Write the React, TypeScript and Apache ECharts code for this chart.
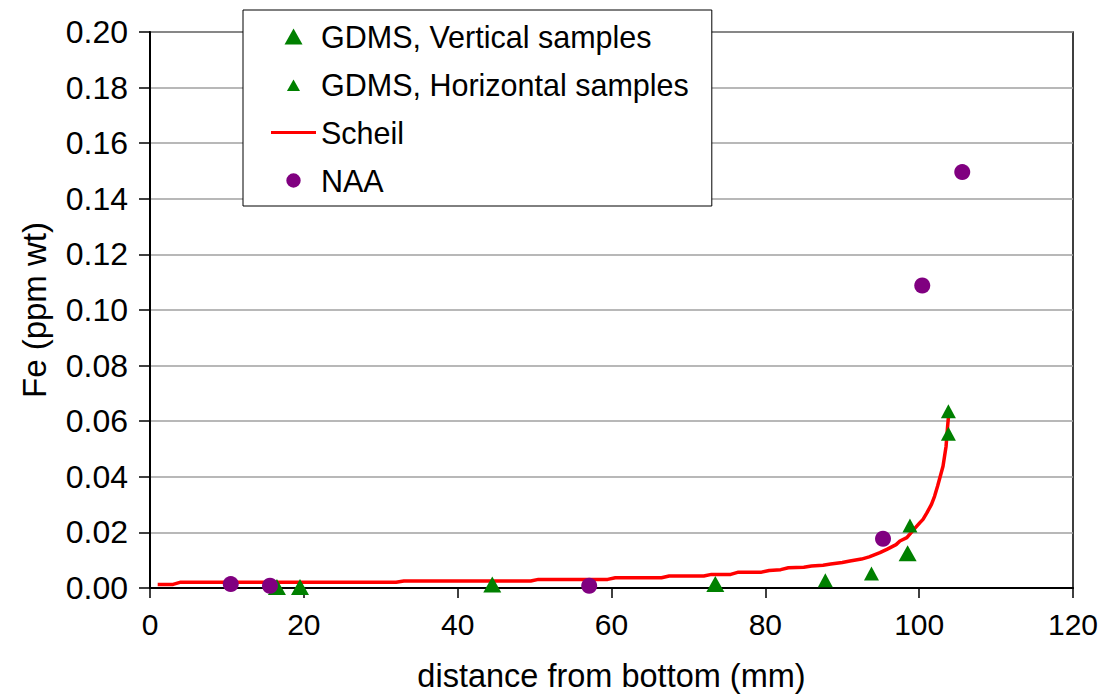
import React, { useEffect, useRef } from "react";
import * as echarts from "echarts";

// Distance from bottom (mm) and Fe content (ppm wt)
const verticalX = [16.5, 19.5, 44.5, 73.5, 98.5];
const verticalY = [0.0004, 0.0004, 0.0013, 0.0014, 0.0125];

const horizontalX = [87.8, 93.8, 98.8, 103.8, 103.8];
const horizontalY = [0.0028, 0.0052, 0.0225, 0.0555, 0.0636];

const scheilX = [1, 3, 4, 32, 33, 49.5, 50.5, 59.5, 60.5, 66.5, 67.5, 72, 73, 75.5, 76.5, 79.5, 80.5, 82, 83, 85, 86, 87.5, 88.5, 90, 91, 92.5, 93.5, 94.9, 95.8, 97, 97.5, 98.4, 99.2, 100.1, 100.5, 101, 101.6, 102, 102.4, 103.1, 103.5, 103.7, 103.8];
const scheilY = [0.0013, 0.0013, 0.0021, 0.0021, 0.0025, 0.0025, 0.0031, 0.0031, 0.0037, 0.0037, 0.0043, 0.0043, 0.0049, 0.0049, 0.0057, 0.0057, 0.0063, 0.0066, 0.0073, 0.0075, 0.0079, 0.0082, 0.0086, 0.0092, 0.0097, 0.0104, 0.0112, 0.0127, 0.0139, 0.0156, 0.0169, 0.0181, 0.0207, 0.0235, 0.0247, 0.027, 0.0301, 0.033, 0.0367, 0.0438, 0.051, 0.0582, 0.0613];

const naaX = [10.5, 15.6, 57.1, 95.3, 100.4, 105.6];
const naaY = [0.0014, 0.0008, 0.0008, 0.0177, 0.1088, 0.1496];

const seriesNames = ["GDMS, Vertical samples", "GDMS, Horizontal samples", "Scheil", "NAA"];

const pairs = (xs: number[], ys: number[]) => xs.map((x, i) => [x, ys[i]]);

const FONT = "'Liberation Sans', Arial, sans-serif";
const W = 1103;
const H = 694;

export default function App() {
  const ref = useRef<HTMLDivElement>(null);

  useEffect(() => {
    if (!ref.current) return;
    const chart = echarts.init(ref.current, undefined, { renderer: "svg", width: W, height: H });
    chart.setOption({
      animation: false,
      backgroundColor: "#ffffff",
      textStyle: { fontFamily: FONT, color: "#000" },
      grid: {
        left: 150,
        right: 30,
        top: 32,
        bottom: 106,
        outerBoundsMode: "none",
        containLabel: false,
        show: true,
        borderColor: "#000",
        borderWidth: 1.5,
        backgroundColor: "transparent",
      },
      legend: {
        orient: "vertical",
        left: 243,
        top: 10,
        padding: [11, 23, 10, 28],
        itemGap: 17,
        itemWidth: 45,
        itemHeight: 18,
        backgroundColor: "#fff",
        borderColor: "#000",
        borderWidth: 1,
        borderRadius: 0,
        textStyle: { fontFamily: FONT, fontSize: 30.5, color: "#000", lineHeight: 30 },
        data: [
          { name: seriesNames[0], icon: "path://M0,0 M18,18 M0,17 L9,1 L18,17 Z" },
          { name: seriesNames[1], icon: "path://M0,0 M22,22 M3,19 L11,5 L19,19 Z" },
          { name: seriesNames[2], icon: "path://M0,7.5 L45,7.5 L45,10.5 L0,10.5 Z" },
          { name: seriesNames[3], icon: "path://M0,0 M20,20 M2,10 A8,8 0 1,1 18,10 A8,8 0 1,1 2,10 Z" },
        ],
      },
      xAxis: {
        type: "value",
        min: 0,
        max: 120,
        interval: 20,
        name: "distance from bottom (mm)",
        nameLocation: "middle",
        nameGap: 71,
        nameTextStyle: { fontFamily: FONT, fontSize: 32.5, color: "#000" },
        axisLine: { show: true, onZero: false, lineStyle: { color: "#000", width: 2 } },
        axisTick: { show: true, inside: false, length: 10, lineStyle: { color: "#000", width: 1.5 } },
        axisLabel: { fontFamily: FONT, fontSize: 30, color: "#000", margin: 21 },
        splitLine: { show: false },
      },
      yAxis: {
        type: "value",
        min: 0,
        max: 0.2,
        interval: 0.02,
        name: "Fe (ppm wt)",
        nameLocation: "middle",
        nameGap: 99,
        nameTextStyle: { fontFamily: FONT, fontSize: 33, color: "#000" },
        axisLine: { show: true, lineStyle: { color: "#000", width: 2 } },
        axisTick: { show: true, inside: false, length: 11, lineStyle: { color: "#000", width: 1.5 } },
        axisLabel: {
          fontFamily: FONT,
          fontSize: 32,
          color: "#000",
          margin: 22,
          formatter: (v: number) => v.toFixed(2),
        },
        splitLine: { show: true, lineStyle: { color: "#a0a0a0", width: 1.5 } },
      },
      series: [
        {
          name: seriesNames[0],
          type: "scatter",
          symbol: "triangle",
          symbolSize: [18, 16],
          itemStyle: { color: "#008000", opacity: 1 },
          data: pairs(verticalX, verticalY),
          z: 3,
        },
        {
          name: seriesNames[1],
          type: "scatter",
          symbol: "triangle",
          symbolSize: [15, 14],
          itemStyle: { color: "#008000", opacity: 1 },
          data: pairs(horizontalX, horizontalY),
          z: 3,
        },
        {
          name: seriesNames[2],
          type: "line",
          showSymbol: false,
          symbol: "none",
          lineStyle: { color: "#ff0000", width: 3.5 },
          itemStyle: { color: "#ff0000" },
          data: pairs(scheilX, scheilY),
          z: 2,
        },
        {
          name: seriesNames[3],
          type: "scatter",
          symbol: "circle",
          symbolSize: 16,
          itemStyle: { color: "#800080", opacity: 1 },
          data: pairs(naaX, naaY),
          z: 4,
        },
      ],
    });
    return () => chart.dispose();
  }, []);

  return (
    <div
      ref={ref}
      style={{ position: "absolute", left: 0, top: 0, width: W, height: H }}
    />
  );
}
